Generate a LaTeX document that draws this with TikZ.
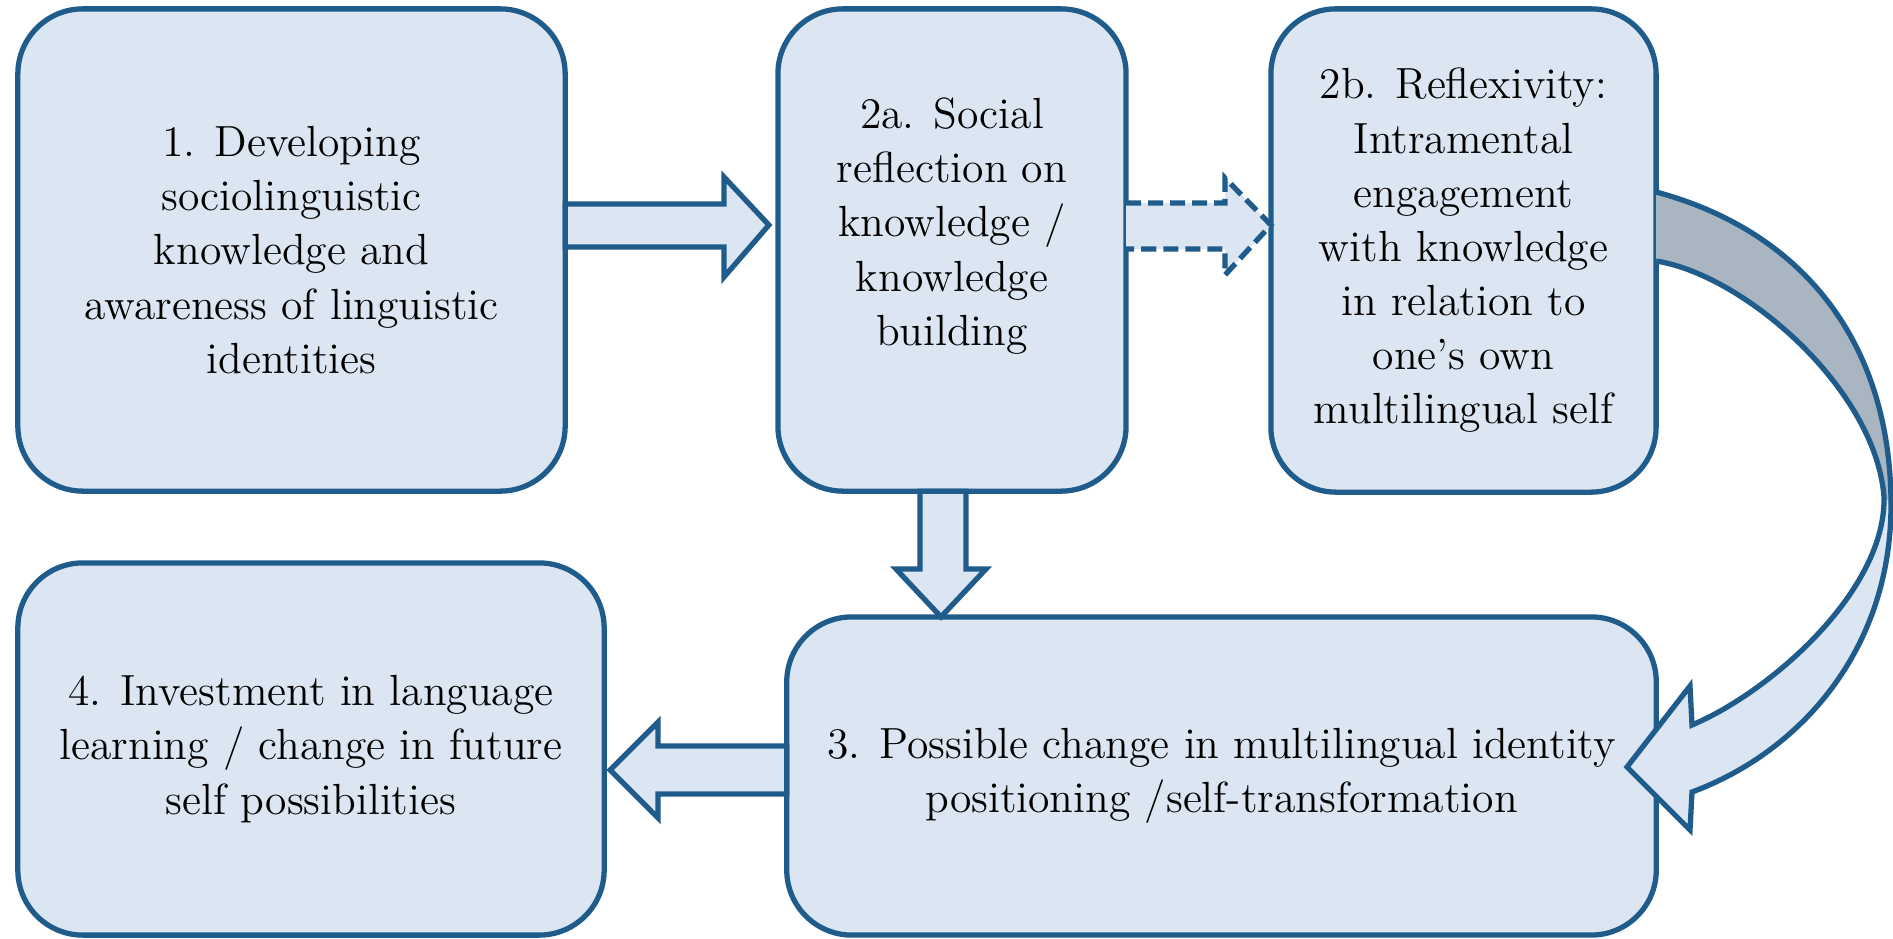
\documentclass[tikz,border=0pt]{standalone}
\usepackage{fontspec}
\usetikzlibrary{calc}
\definecolor{boxfill}{HTML}{DCE6F2}
\definecolor{edge}{HTML}{1F5C8C}
\definecolor{backgrey}{HTML}{AAB5C2}
\begin{document}
\begin{tikzpicture}[x=0.01cm,y=-0.01cm,
  box/.style={draw=edge, fill=boxfill, line width=1.5pt, rounded corners=0.65cm,
    outer sep=0pt, inner sep=0pt, align=center, font=\rmfamily\fontsize{12.4}{15.4}\selectfont},
  txt/.style={align=center, inner sep=0pt, font=\rmfamily\fontsize{12.4}{15.4}\selectfont},
  blockarrow/.style={draw=edge, fill=boxfill, line width=1.5pt, line join=miter},
  dasharrow/.style={draw=edge, line width=1.5pt, dash pattern=on 0.15cm off 0.07cm},
  curveline/.style={draw=edge, line width=1.5pt, line join=miter}]
\useasboundingbox (0,0) rectangle (1893,939);

% boxes
\node[box, minimum width=5.47cm, minimum height=4.82cm] (b1) at (291.5,250)
  {1. Developing\\ sociolinguistic\\ knowledge and\\ awareness of linguistic\\ identities};
\node[box, minimum width=3.48cm, minimum height=4.82cm] (b2a) at (952,250) {};
\node[txt] (t2a) at (952,226) {2a. Social\\ reflection on\\ knowledge /\\ knowledge\\ building};
\node[box, minimum width=3.85cm, minimum height=4.83cm] (b2b) at (1463.5,250.5)
  {2b. Reflexivity:\\ Intramental\\ engagement\\ with knowledge\\ in relation to\\ one’s own\\ multilingual self};
\node[box, minimum width=5.86cm, minimum height=3.72cm] (b4) at (311,749)
  {4. Investment in language\\ learning / change in future\\ self possibilities};
\node[box, minimum width=8.69cm, minimum height=3.18cm] (b3) at (1221.5,776)
  {3. Possible change in multilingual identity\\ positioning /self-transformation};

% 1 -> 2a
\draw[blockarrow] (b1.east |- 0,204) -- (724,204) -- (724,177) -- ($(b2a.west |- 0,225)+(-9,0)$)
  -- (724,277) -- (724,247) -- (b1.east |- 0,247) -- cycle;

% 2a -> 2b (dashed)
\fill[boxfill] (b2a.east |- 0,203) -- (1225,203) -- (1225,178) -- (b2b.west |- 0,225)
  -- (1225,275) -- (1225,249) -- (b2a.east |- 0,249) -- cycle;
\draw[dasharrow] (b2a.east |- 0,203) -- (1225,203) -- (1225,178) -- (b2b.west |- 0,225)
  -- (1225,275) -- (1225,249) -- (b2a.east |- 0,249);

% 2a -> 3
\draw[blockarrow] (920,0 |- b2a.south) -- (920,569) -- (896,569) -- (941,0 |- b3.north)
  -- (986,569) -- (966,569) -- (966,0 |- b2a.south) -- cycle;

% 3 -> 4
\draw[blockarrow] (b3.west |- 0,746) -- (658,746) -- (658,722) -- ($(b4.east |- 0,770)+(6,0)$)
  -- (658,818) -- (658,794) -- (b3.west |- 0,794) -- cycle;

% 2b -> 3 curved arrow
\coordinate (cA) at (b2b.east |- 0,192);
\coordinate (cB) at (b2b.east |- 0,261);
\coordinate (cR) at (1891,505);
\coordinate (cP) at (1884,497);
\fill[backgrey] (cA) .. controls (1805,232) and (1891,345) .. (cR) -- (cP)
  .. controls (1876,390) and (1745,275) .. (cB) -- cycle;
\fill[boxfill] (cP) .. controls (1886,590) and (1772,691) .. (1692,725) -- (1690,686) -- (1627,767)
  -- (1690,830) -- (1692,792) .. controls (1800,752) and (1891,650) .. (cR) -- cycle;
\draw[curveline] (cA) .. controls (1805,232) and (1891,345) .. (cR)
  .. controls (1891,650) and (1800,752) .. (1692,792) -- (1690,830) -- (1627,767)
  -- (1690,686) -- (1692,725) .. controls (1772,691) and (1886,590) .. (cP)
  .. controls (1876,390) and (1745,275) .. (cB);
\end{tikzpicture}
\end{document}
